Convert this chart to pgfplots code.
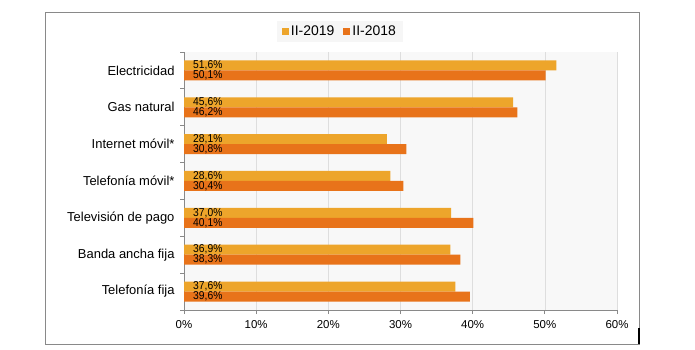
\documentclass[border=0pt]{standalone}
\usepackage{fontspec}
\setmainfont{Liberation Sans}
\newfontfamily\narrowfont[FakeStretch=0.9]{Liberation Sans}
\usepackage{pgfplots}
\usepackage{pgfplotstable}
\pgfplotsset{compat=1.18}
\definecolor{c19}{RGB}{237,165,43}
\definecolor{c18}{RGB}{232,115,26}
\definecolor{axgray}{RGB}{137,137,137}
\definecolor{gridgray}{RGB}{222,222,222}
\definecolor{bggray}{RGB}{248,248,248}
\definecolor{legbg}{RGB}{246,246,246}
\pgfplotstableread{
pos a b
6 51.6 50.1
5 45.6 46.2
4 28.1 30.8
3 28.6 30.4
2 37.0 40.1
1 36.9 38.3
0 37.6 39.6
}\data
\begin{document}
\begin{tikzpicture}
\path[use as bounding box] (0,0) rectangle (695bp,350bp);
\draw[axgray, line width=1bp] (45bp,5bp) rectangle (639bp,337bp);
\draw[black, line width=1.5bp] (639bp,6bp) -- (639bp,22bp);
\begin{axis}[
 at={(184bp,40bp)}, anchor=south west,
 scale only axis, width=433bp, height=258bp,
 xmin=0, xmax=60, ymin=-0.5, ymax=6.5,
 axis lines=left,
 axis line style={-, draw=axgray, line width=0.8bp},
 axis background/.style={fill=bggray},
 xtick={0,10,...,60},
 xticklabel={\pgfmathprintnumber[assume math mode=true]{\tick}\%},
 xmajorgrids, grid style={gridgray, line width=0.6bp},
 tick align=outside, major tick length=4bp,
 tick style={draw=axgray, line width=0.8bp},
 xticklabel style={font=\fontsize{11.5}{12}\selectfont, yshift=-3bp},
 ytick={-0.5,0.5,...,6.5},
 yticklabels={{},Telefonía fija,Banda ancha fija,Televisión de pago,Telefonía móvil*,Internet móvil*,Gas natural,Electricidad},
 yticklabel style={font=\fontsize{13}{14}\selectfont, yshift=-18.43bp, xshift=-2bp},
 legend style={at={(0.36,1.078)}, anchor=center, legend columns=2, draw=none, fill=legbg,
   font=\fontsize{14}{14}\selectfont, inner xsep=5bp, inner ysep=3bp,
   /tikz/every even column/.append style={column sep=7bp}},
 legend image code/.code={\fill[#1, draw=none] (0bp,-3.5bp) rectangle (7bp,3.5bp);},
]
\addplot[xbar, bar width=10bp, bar shift=5bp, fill=c19, draw=none] table[x=a, y=pos] {\data};
\addlegendentry{II-2019}
\addplot[xbar, bar width=10bp, bar shift=-5bp, fill=c18, draw=none] table[x=b, y=pos] {\data};
\addlegendentry{II-2018}
\addplot[draw=none, forget plot, point meta=explicit,
  nodes near coords={\pgfmathprintnumber[fixed,fixed zerofill,precision=1,use comma,assume math mode=true]{\pgfplotspointmeta}\%},
  every node near coord/.append style={anchor=west, inner sep=0pt, xshift=9bp, yshift=5bp, font=\narrowfont\fontsize{11.5}{11}\selectfont, text=black}]
  table[x expr=0, y=pos, meta=a] {\data};
\addplot[draw=none, forget plot, point meta=explicit,
  nodes near coords={\pgfmathprintnumber[fixed,fixed zerofill,precision=1,use comma,assume math mode=true]{\pgfplotspointmeta}\%},
  every node near coord/.append style={anchor=west, inner sep=0pt, xshift=9bp, yshift=-5bp, font=\narrowfont\fontsize{11.5}{11}\selectfont, text=black}]
  table[x expr=0, y=pos, meta=b] {\data};
\end{axis}
\end{tikzpicture}
\end{document}
